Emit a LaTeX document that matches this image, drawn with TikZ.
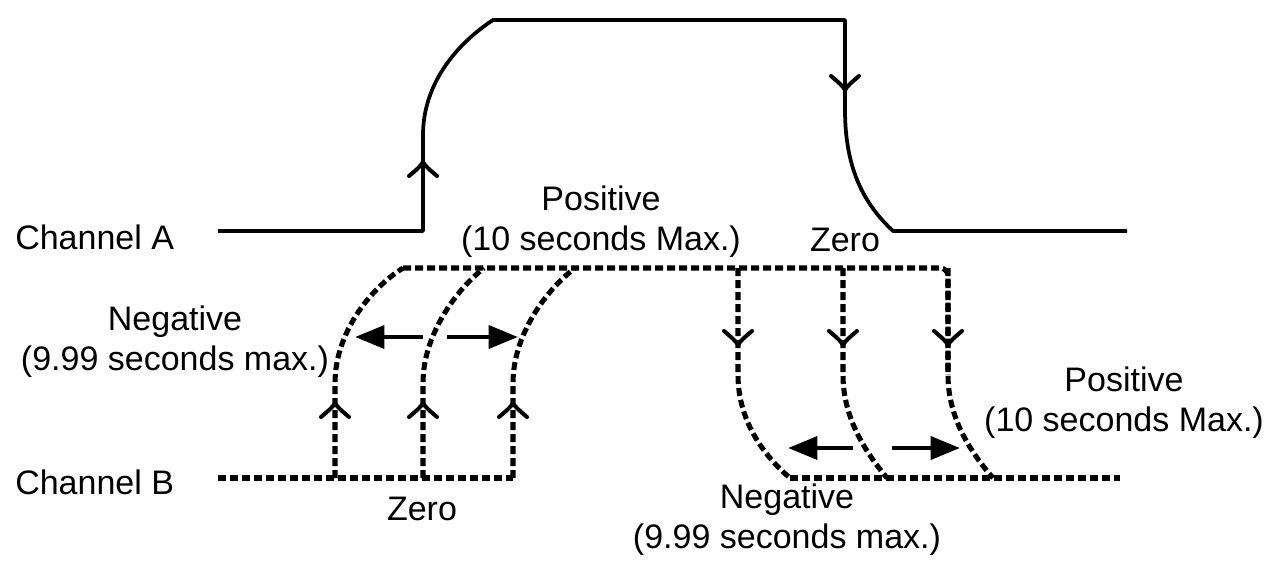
\documentclass[tikz,border=0pt]{standalone}
\usepackage{fontspec}
\setmainfont{Liberation Sans}
\usetikzlibrary{arrows.meta}
\begin{document}
\begin{tikzpicture}[x=0.75pt,y=-0.75pt,
  lbl/.style={font=\fontsize{25.5pt}{30pt}\selectfont, inner sep=0pt, align=center},
  sig/.style={line width=2.8pt, line join=round},
  dsig/.style={line width=3.8pt, dash pattern=on 6pt off 3pt},
  harrow/.style={line width=3.4pt, -{Triangle[length=22pt,width=17pt]}},
  chevup/.pic={\draw[line width=3pt, line join=round, line cap=round] (-14,14) .. controls (-7,8) and (-2,4) .. (0,0) .. controls (2,4) and (7,8) .. (14,14);},
  chevdown/.pic={\draw[line width=3pt, line join=round, line cap=round] (-14,-14) .. controls (-7,-8) and (-2,-4) .. (0,0) .. controls (2,-4) and (7,-8) .. (14,-14);},
]
\useasboundingbox (0,0) rectangle (1269,562);

% labels
\node[lbl, anchor=west] (chA) at (15,237) {Channel A};
\node[lbl, anchor=west] (chB) at (15,482) {Channel B};
\node[lbl] (negL) at (175,342) {Negative\\(9.99 seconds max.)};
\node[lbl] (posT) at (601,222) {Positive\\(10 seconds Max.)};
\node[lbl] (zeroT) at (845,240) {Zero};
\node[lbl] (zeroB) at (422,509) {Zero};
\node[lbl] (posR) at (1124,403) {Positive\\(10 seconds Max.)};
\node[lbl] (negB) at (787,520) {Negative\\(9.99 seconds max.)};

% Channel A
\draw[sig] (218,231) -- (423,231) -- (423,135)
  .. controls (423,85) and (455,45) .. (493,20) -- (845,20) -- (845,110)
  .. controls (845,170) and (865,205) .. (893,231) -- (1127,231);
\pic at (423,162) {chevup};
\pic at (845,90) {chevdown};

% Channel B left
\draw[dsig] (218,478) -- (513,478);
\foreach \xv/\xe in {335/403, 423/484, 513/575}{
  \draw[dsig] (\xv,478) -- (\xv,383) .. controls (\xv,335) and ({\xv+33},290) .. (\xe,268);
  \pic at (\xv,403) {chevup};
}
\draw[dsig, rounded corners=6pt] (403,268) -- (948,268) -- (948,375);
\foreach \xv/\xe in {738/790, 843/887, 948/993}{
  \draw[dsig] (\xv,268) -- (\xv,375) .. controls (\xv,420) and ({\xv+25},455) .. (\xe,478);
  \pic at (\xv,345) {chevdown};
}
\draw[dsig] (790,478) -- (1120,478);

% horizontal arrows
\coordinate (a1) at (423,337); \coordinate (a1l) at (355,337);
\coordinate (a2) at (447,337); \coordinate (a2r) at (518,337);
\draw[harrow] (a1) -- (a1l);
\draw[harrow] (a2) -- (a2r);
\coordinate (b1) at (853,448); \coordinate (b1l) at (788,448);
\coordinate (b2) at (892,448); \coordinate (b2r) at (960,448);
\draw[harrow] (b1) -- (b1l);
\draw[harrow] (b2) -- (b2r);
\end{tikzpicture}
\end{document}
